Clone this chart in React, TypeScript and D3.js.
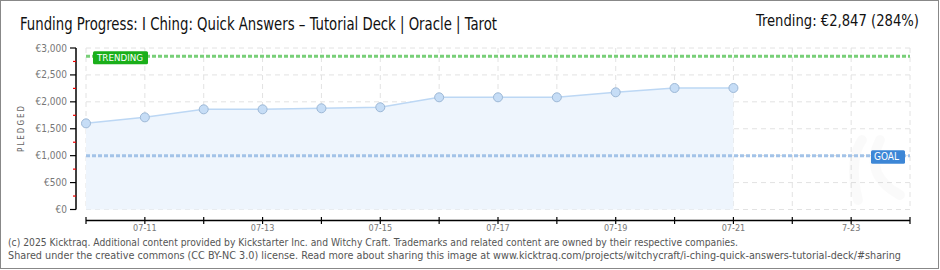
import React from "react";
import * as d3 from "d3";

const dates = ["2025-07-10","2025-07-11","2025-07-12","2025-07-13","2025-07-14","2025-07-15","2025-07-16","2025-07-17","2025-07-18","2025-07-19","2025-07-20","2025-07-21"];
const pledged = [1600, 1712, 1861, 1861, 1880, 1899, 2084, 2084, 2084, 2177, 2257, 2257];
const yTicks = [0, 500, 1000, 1500, 2000, 2500, 3000];
const yMinor = [250, 750, 1250, 1750, 2250, 2750];
const xTickDays = ["2025-07-10","2025-07-11","2025-07-12","2025-07-13","2025-07-14","2025-07-15","2025-07-16","2025-07-17","2025-07-18","2025-07-19","2025-07-20","2025-07-21","2025-07-22","2025-07-23","2025-07-24"];
const xLabelDays = ["2025-07-11","2025-07-13","2025-07-15","2025-07-17","2025-07-19","2025-07-21","2025-07-23"];
const xLabels = ["07-11","07-13","07-15","07-17","07-19","07-21","7-23"];
const goal = 1000;
const trending = 2847;
const title = "Funding Progress: I Ching: Quick Answers – Tutorial Deck | Oracle | Tarot";
const trendingText = "Trending:  €2,847 (284%)";
const footer1 = "(c) 2025 Kicktraq. Additional content provided by Kickstarter Inc. and Witchy Craft. Trademarks and related content are owned by their respective companies.";
const footer2 = "Shared under the creative commons (CC BY-NC 3.0) license. Read more about sharing this image at www.kicktraq.com/projects/witchycraft/i-ching-quick-answers-tutorial-deck/#sharing";

const parse = d3.utcParse("%Y-%m-%d");
const W = 940, H = 270;
const font = "'DejaVu Sans Condensed', 'DejaVu Sans', sans-serif";
const thin = "'Liberation Sans Narrow', 'DejaVu Sans Condensed', sans-serif";

export default function App() {
  const x = d3.scaleUtc().domain([parse("2025-07-10")!, parse("2025-07-24")!]).range([86, 910]);
  const y = d3.scaleLinear().domain([0, 3000]).range([209.5, 48]);
  const data = dates.map((d, i) => ({ d: parse(d)!, v: pledged[i] }));
  const line = d3.line<any>().x(p => x(p.d)).y(p => y(p.v));
  const area = d3.area<any>().x(p => x(p.d)).y0(y(0)).y1(p => y(p.v));
  const fmt = (v: number) => "€" + d3.format(",")(v);
  const axisY = 220.5;
  return (
    <svg width={W} height={H} style={{ position: "absolute", left: 0, top: 0, background: "#fff" }}>
      <rect x={0.5} y={0.5} width={W - 2} height={H - 2} fill="#fff" stroke="#888" />
      <text x={20} y={30} fontFamily={thin} fontSize={17} fill="#111" textLength={477} lengthAdjust="spacingAndGlyphs">{title}</text>
      <text x={919} y={26} fontFamily={thin} fontSize={16} fill="#111" textAnchor="end" textLength={163} lengthAdjust="spacingAndGlyphs">{trendingText}</text>
      {/* grid */}
      {yTicks.map(t => (
        <line key={"gy" + t} x1={86} x2={910} y1={y(t)} y2={y(t)} stroke="#e2e2e2" strokeDasharray="5,4" />
      ))}
      {xTickDays.map(t => (
        <line key={"gx" + t} x1={x(parse(t)!)} x2={x(parse(t)!)} y1={48} y2={209.5} stroke="#e2e2e2" strokeDasharray="5,4" />
      ))}
      {/* watermark */}
      <g opacity={0.02} fill="none" stroke="#000" strokeWidth={10} strokeLinecap="round">
        <path d="M858 200 C 850 170, 855 150, 862 140 M 880 140 C 870 160, 872 180, 900 195" />
      </g>
      <path d={area(data)!} fill="#eef5fd" />
      <path d={line(data)!} fill="none" stroke="#bcd7f4" strokeWidth={1.5} />
      {/* goal & trending lines */}
      <line x1={86} x2={910} y1={y(trending)} y2={y(trending)} stroke="#78cf78" strokeWidth={3} strokeDasharray="4,2" />
      <line x1={86} x2={910} y1={y(goal)} y2={y(goal)} stroke="#a3c3e8" strokeWidth={3} strokeDasharray="4,2" />
      {data.map((p, i) => (
        <circle key={"pt" + i} cx={x(p.d)} cy={y(p.v)} r={4.5} fill="#c6ddf6" stroke="#9db8d6" strokeWidth={1} />
      ))}
      {/* labels */}
      <rect x={93} y={y(trending) - 5} width={55} height={13} rx={1.5} fill="#1aaf1a" />
      <text x={97} y={y(trending) + 5} fontFamily={font} fontSize={9} fill="#fff" textLength={46} lengthAdjust="spacingAndGlyphs">TRENDING</text>
      <rect x={871} y={y(goal) - 5.5} width={34} height={13.5} rx={1.5} fill="#3c86d6" />
      <text x={874} y={y(goal) + 4.5} fontFamily={font} fontSize={10} fill="#fff" textLength={25} lengthAdjust="spacingAndGlyphs">GOAL</text>
      {/* y axis */}
      <line x1={76} x2={76} y1={48} y2={209.5} stroke="#000" strokeWidth={1.5} />
      {yTicks.map(t => (
        <g key={"yt" + t}>
          <line x1={70} x2={76} y1={y(t)} y2={y(t)} stroke="#000" strokeWidth={1.2} />
          <text x={67} y={y(t) + 3.5} fontFamily={font} fontSize={10} fill="#777" textAnchor="end">{fmt(t)}</text>
        </g>
      ))}
      {yMinor.map(t => (
        <line key={"ym" + t} x1={73} x2={76} y1={y(t)} y2={y(t)} stroke="#e00" strokeWidth={1.2} />
      ))}
      <text transform={`translate(24,${128}) rotate(-90)`} fontFamily={font} fontSize={8} fill="#666" textAnchor="middle" letterSpacing={2}>PLEDGED</text>
      {/* x axis */}
      <line x1={86} x2={910} y1={axisY} y2={axisY} stroke="#000" strokeWidth={1.5} />
      {xTickDays.map(t => (
        <line key={"xt" + t} x1={x(parse(t)!)} x2={x(parse(t)!)} y1={axisY - 3.5} y2={axisY + 3.5} stroke="#000" strokeWidth={1.2} />
      ))}
      {xLabelDays.map((t, i) => (
        <text key={"xl" + t} x={x(parse(t)!)} y={231} fontFamily={font} fontSize={9} fill="#777" textAnchor="middle">{xLabels[i]}</text>
      ))}
      {/* footer */}
      <text x={8} y={246} fontFamily={font} fontSize={10} fill="#555" textLength={730} lengthAdjust="spacingAndGlyphs">{footer1}</text>
      <text x={8} y={259} fontFamily={font} fontSize={10} fill="#555" textLength={893} lengthAdjust="spacingAndGlyphs">{footer2}</text>
    </svg>
  );
}
